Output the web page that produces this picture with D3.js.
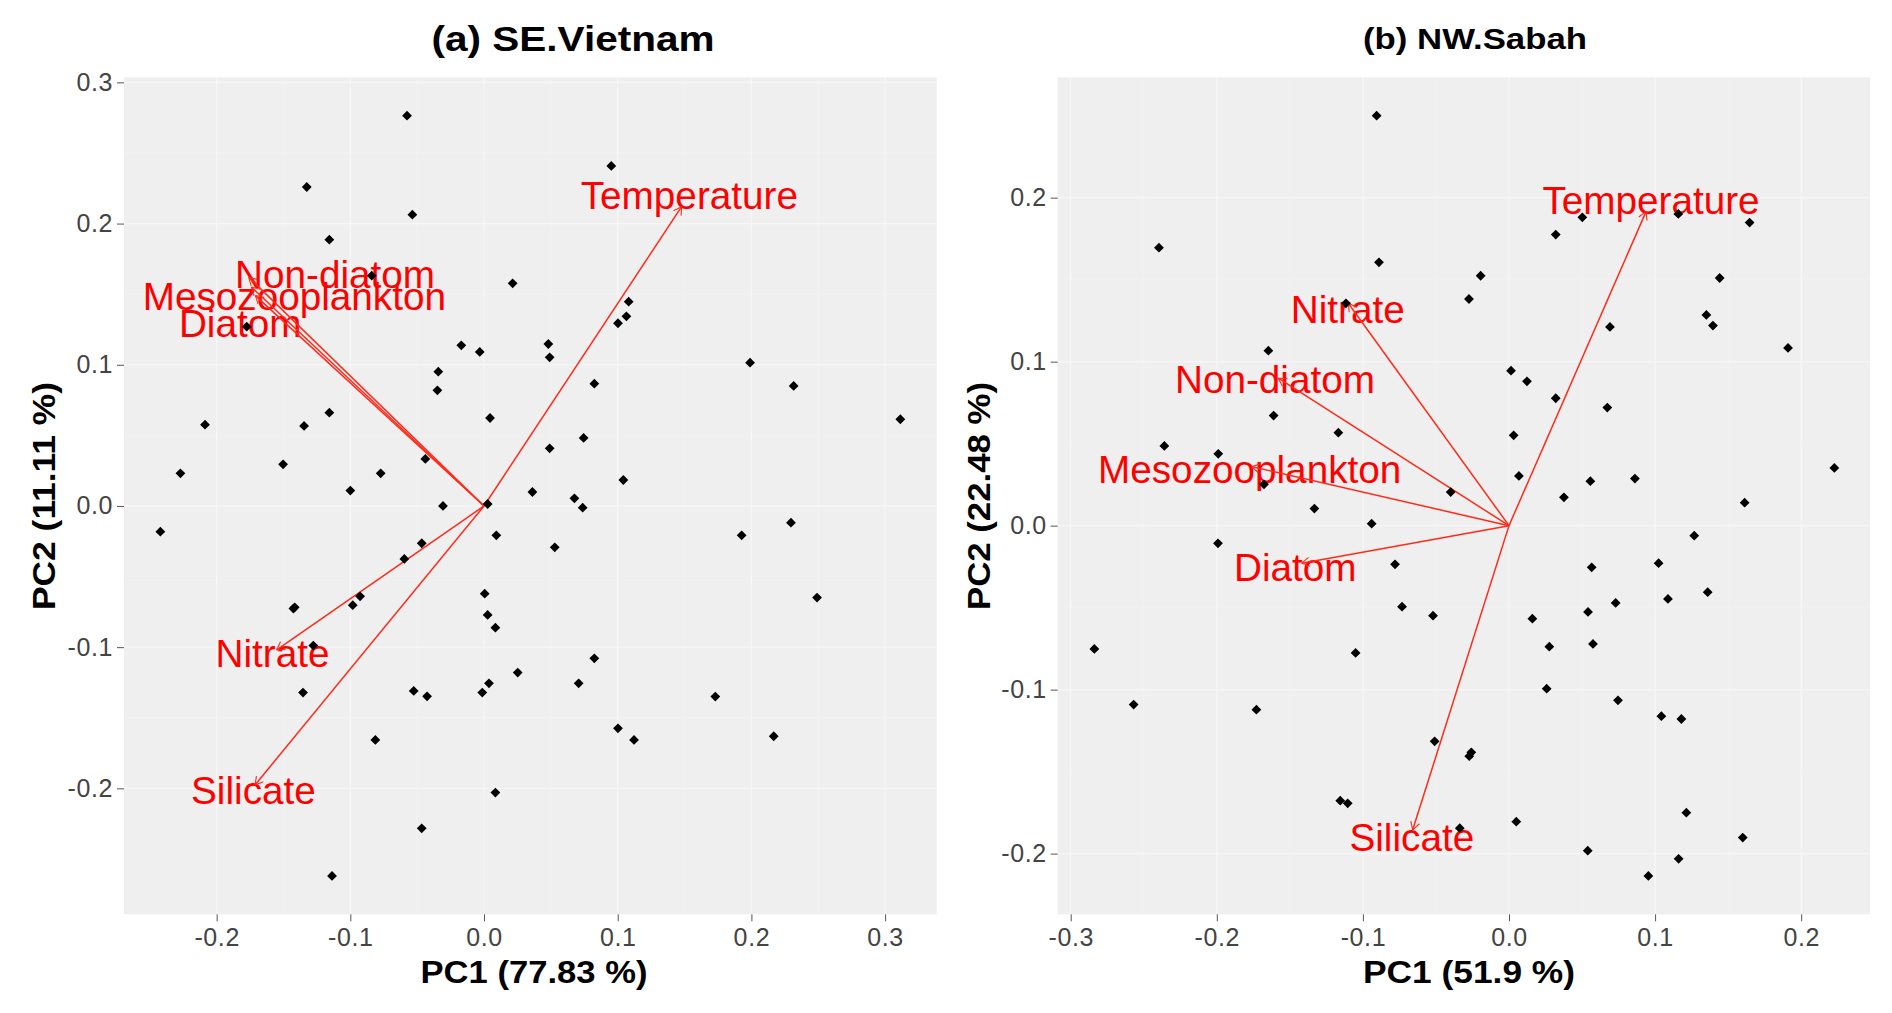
<!DOCTYPE html>
<html>
<head>
<meta charset="utf-8">
<script src="https://cdn.jsdelivr.net/npm/d3@7"></script>
<style>
  body { margin: 0; background: #fff; }
  text { font-family: "Liberation Sans", Arial, sans-serif; }
</style>
</head>
<body>
<svg id="chart" width="1892" height="1013"></svg>
<script>
// ---------- (a) SE.Vietnam ----------
const vnPC1 = [-0.0576, -0.1326, -0.0536, -0.1157, -0.0840, -0.1775, -0.0170, -0.0032, -0.0342, -0.0349,
  -0.1157, 0.0045, -0.2087, -0.1346, -0.1503, -0.0439, -0.2271, -0.0773, -0.1000, -0.0307,
  0.0027, 0.0952, 0.0214, 0.1082, 0.1065, 0.1002, 0.0481, 0.0491, 0.1990, 0.2316,
  0.0825, 0.3114, 0.0745, 0.0491, 0.1042, 0.0362, 0.0676, 0.0738, -0.2421, -0.0466,
  -0.0596, 0.0092, -0.0927, -0.0982, -0.1426, -0.1416, 0.0005, 0.0027, 0.0085, -0.1277,
  -0.1354, -0.0526, -0.0426, -0.0013, 0.0037, -0.0813, 0.0085, -0.0466, -0.1137, 0.0529,
  0.1927, 0.2296, 0.2491, 0.0825, 0.0252, 0.0708, 0.1730, 0.1002, 0.1122, 0.2167];
const vnPC2 = [0.2764, 0.2259, 0.2063, 0.1886, 0.1631, 0.1270, 0.1138, 0.1091, 0.0951, 0.0819,
  0.0661, 0.0623, 0.0576, 0.0567, 0.0295, 0.0333, 0.0231, 0.0231, 0.0109, 0.0000,
  0.0014, 0.2408, 0.1577, 0.1447, 0.1343, 0.1294, 0.1147, 0.1053, 0.1015, 0.0850,
  0.0866, 0.0614, 0.0482, 0.0408, 0.0184, 0.0099, 0.0054, -0.0012, -0.0182, -0.0264,
  -0.0375, -0.0208, -0.0640, -0.0703, -0.0727, -0.0718, -0.0621, -0.0772, -0.0862, -0.0989,
  -0.1322, -0.1310, -0.1348, -0.1322, -0.1256, -0.1657, -0.2030, -0.2283, -0.2620, -0.0293,
  -0.0208, -0.0118, -0.0649, -0.1079, -0.1180, -0.1256, -0.1350, -0.1575, -0.1657, -0.1631];
const vnVars   = ["Temperature", "Non-diatom", "Mesozooplankton", "Diatom", "Nitrate", "Silicate"];
const vnTipPC1 = [0.1478, -0.1760, -0.1740, -0.1710, -0.1551, -0.1713];
const vnTipPC2 = [0.2120, 0.1620, 0.1550, 0.1490, -0.1020, -0.1976];
const vnLabPC1 = [0.1536, -0.1114, -0.1419, -0.1824, -0.1582, -0.1725];
const vnLabPC2 = [0.2199, 0.1642, 0.1489, 0.1294, -0.1043, -0.2009];
const vnXTicks = [-0.2, -0.1, 0.0, 0.1, 0.2, 0.3];
const vnYTicks = [-0.2, -0.1, 0.0, 0.1, 0.2, 0.3];

// ---------- (b) NW.Sabah ----------
const sbPC1 = [-0.0906, -0.2396, -0.0890, -0.1116, -0.1647, -0.1611, -0.1168, -0.2359, -0.1990, -0.1677,
  -0.1332, 0.0502, 0.0320, 0.1159, 0.1647, -0.0194, -0.0274, 0.1442, 0.0691, 0.1351,
  0.1396, 0.1910, 0.0014, 0.0123, 0.0320, 0.0673, 0.0032, 0.0068, 0.0557, 0.0862,
  0.2227, -0.0399, 0.0376, 0.1613, -0.0940, -0.1992, -0.0780, -0.0732, -0.0520, -0.2838,
  -0.1050, -0.2569, -0.1729, -0.0509, -0.1155, -0.1104, 0.1268, 0.1024, 0.0566, 0.1360,
  0.0730, 0.1088, 0.0160, 0.0541, 0.0276, 0.0575, 0.0258, 0.0746, 0.1043, 0.1180,
  -0.0272, -0.0258, 0.0050, -0.0337, 0.1214, 0.1600, 0.0539, 0.1161, 0.0954];
const sbPC2 = [0.2500, 0.1695, 0.1606, 0.1356, 0.1067, 0.0671, 0.0567, 0.0486, 0.0438, 0.0252,
  0.0104, 0.1880, 0.1775, 0.1901, 0.1848, 0.1524, 0.1382, 0.1510, 0.1212, 0.1285,
  0.1220, 0.1084, 0.0945, 0.0880, 0.0777, 0.0720, 0.0551, 0.0303, 0.0271, 0.0287,
  0.0352, 0.0205, 0.0173, 0.0140, 0.0012, -0.0108, -0.0236, -0.0494, -0.0549, -0.0752,
  -0.0776, -0.1091, -0.1122, -0.1315, -0.1677, -0.1693, -0.0061, -0.0229, -0.0254, -0.0406,
  -0.0471, -0.0447, -0.0567, -0.0526, -0.0738, -0.0721, -0.0994, -0.1065, -0.1162, -0.1179,
  -0.1406, -0.1382, -0.1805, -0.1845, -0.1750, -0.1902, -0.1982, -0.2032, -0.2136];
const sbVars   = ["Temperature", "Nitrate", "Non-diatom", "Mesozooplankton", "Diatom", "Silicate"];
const sbTipPC1 = [0.0938, -0.1100, -0.1579, -0.1761, -0.1419, -0.0659];
const sbTipPC2 = [0.1915, 0.1356, 0.0899, 0.0360, -0.0229, -0.1855];
const sbLabPC1 = [0.0972, -0.1104, -0.1602, -0.1775, -0.1463, -0.0665];
const sbLabPC2 = [0.1986, 0.1320, 0.0893, 0.0348, -0.0250, -0.1896];
const sbXTicks = [-0.3, -0.2, -0.1, 0.0, 0.1, 0.2];
const sbYTicks = [-0.2, -0.1, 0.0, 0.1, 0.2];

const svg = d3.select("#chart");
const fmt = v => v.toFixed(1);

function drawPanel(p) {
  const x = d3.scaleLinear().domain(p.xDomain).range([p.left, p.right]);
  const y = d3.scaleLinear().domain(p.yDomain).range([p.bottom, p.top]);
  const g = svg.append("g");

  // panel background
  g.append("rect")
    .attr("x", p.left).attr("y", p.top)
    .attr("width", p.right - p.left).attr("height", p.bottom - p.top)
    .attr("fill", "#efefef");

  // grid, very faint in the original
  const mids = t => t.slice(1).map((v, i) => (v + t[i]) / 2);
  g.selectAll(".gx-minor").data(mids(p.xTicks)).join("line")
    .attr("x1", d => x(d)).attr("x2", d => x(d)).attr("y1", p.top).attr("y2", p.bottom)
    .attr("stroke", "#f3f3f3").attr("stroke-width", 0.8);
  g.selectAll(".gy-minor").data(mids(p.yTicks)).join("line")
    .attr("y1", d => y(d)).attr("y2", d => y(d)).attr("x1", p.left).attr("x2", p.right)
    .attr("stroke", "#f3f3f3").attr("stroke-width", 0.8);
  g.selectAll(".gx").data(p.xTicks).join("line")
    .attr("x1", d => x(d)).attr("x2", d => x(d)).attr("y1", p.top).attr("y2", p.bottom)
    .attr("stroke", "#f6f6f6").attr("stroke-width", 1.4);
  g.selectAll(".gy").data(p.yTicks).join("line")
    .attr("y1", d => y(d)).attr("y2", d => y(d)).attr("x1", p.left).attr("x2", p.right)
    .attr("stroke", "#f6f6f6").attr("stroke-width", 1.4);

  // axes
  const ax = g.append("g").attr("transform", `translate(0,${p.bottom})`)
    .call(d3.axisBottom(x).tickValues(p.xTicks).tickFormat(fmt).tickSize(7).tickPadding(7));
  const ay = g.append("g").attr("transform", `translate(${p.left},0)`)
    .call(d3.axisLeft(y).tickValues(p.yTicks).tickFormat(fmt).tickSize(7).tickPadding(4));
  [ax, ay].forEach(a => {
    a.select(".domain").remove();
    a.selectAll("line").attr("stroke", "#555");
    a.selectAll("text").attr("fill", "#444")
      .style("font-size", "25px").style("letter-spacing", "0.6px");
  });

  // variable labels
  const vars = p.vars.map((name, i) => ({
    name, tx: p.tipX[i], ty: p.tipY[i], lx: p.labX[i], ly: p.labY[i]
  }));
  g.selectAll(".lab").data(vars).join("text")
    .attr("x", d => x(d.lx)).attr("y", d => y(d.ly))
    .attr("dy", "0.36em")
    .attr("text-anchor", "middle")
    .attr("fill", "#ff0000")
    .style("font-size", "38.7px")
    .text(d => d.name);

  // arrows
  const x0 = x(0), y0 = y(0);
  g.selectAll(".arr").data(vars).join("line")
    .attr("x1", x0).attr("y1", y0)
    .attr("x2", d => x(d.tx)).attr("y2", d => y(d.ty))
    .attr("stroke", "#ff2a1a").attr("stroke-width", 1.5);
  const head = 9, spread = Math.PI / 6;
  vars.forEach(d => {
    const ex = x(d.tx), ey = y(d.ty);
    const ang = Math.atan2(ey - y0, ex - x0);
    [ang + Math.PI - spread, ang + Math.PI + spread].forEach(a => {
      g.append("line")
        .attr("x1", ex).attr("y1", ey)
        .attr("x2", ex + head * Math.cos(a)).attr("y2", ey + head * Math.sin(a))
        .attr("stroke", "#ff2a1a").attr("stroke-width", 1.1);
    });
  });

  // observations
  g.selectAll(".pt").data(d3.zip(p.pc1, p.pc2)).join("path")
    .attr("d", d3.symbol(d3.symbolSquare, 48))
    .attr("transform", d => `translate(${x(d[0])},${y(d[1])}) rotate(45)`)
    .attr("fill", "#000");

  // titles
  svg.append("text")
    .attr("x", p.titleX).attr("y", p.titleY)
    .attr("text-anchor", "middle")
    .attr("textLength", p.titleLen).attr("lengthAdjust", "spacingAndGlyphs")
    .style("font-size", p.titleSize + "px").style("font-weight", "bold")
    .text(p.title);
  svg.append("text")
    .attr("x", p.xTitleX).attr("y", 983)
    .attr("text-anchor", "middle")
    .attr("textLength", p.xTitleLen).attr("lengthAdjust", "spacingAndGlyphs")
    .style("font-size", "31px").style("font-weight", "bold")
    .text(p.xTitle);
  svg.append("text")
    .attr("transform", `translate(${p.yTitleX},496) rotate(-90)`)
    .attr("text-anchor", "middle")
    .attr("textLength", 228).attr("lengthAdjust", "spacingAndGlyphs")
    .style("font-size", "31px").style("font-weight", "bold")
    .text(p.yTitle);
}

drawPanel({
  left: 124, right: 936.7, top: 77.3, bottom: 914.3,
  xDomain: [-0.2693, 0.3386], yDomain: [-0.2892, 0.3036],
  xTicks: vnXTicks, yTicks: vnYTicks,
  pc1: vnPC1, pc2: vnPC2,
  vars: vnVars, tipX: vnTipPC1, tipY: vnTipPC2, labX: vnLabPC1, labY: vnLabPC2,
  title: "(a) SE.Vietnam", titleX: 573, titleY: 51, titleLen: 283, titleSize: 34.5,
  xTitle: "PC1 (77.83 %)", xTitleX: 534, xTitleLen: 227,
  yTitle: "PC2 (11.11 %)", yTitleX: 55
});

drawPanel({
  left: 1057.7, right: 1870, top: 77.3, bottom: 914.3,
  xDomain: [-0.3089, 0.2471], yDomain: [-0.2370, 0.2734],
  xTicks: sbXTicks, yTicks: sbYTicks,
  pc1: sbPC1, pc2: sbPC2,
  vars: sbVars, tipX: sbTipPC1, tipY: sbTipPC2, labX: sbLabPC1, labY: sbLabPC2,
  title: "(b) NW.Sabah", titleX: 1475, titleY: 49, titleLen: 224, titleSize: 30,
  xTitle: "PC1 (51.9 %)", xTitleX: 1469, xTitleLen: 212,
  yTitle: "PC2 (22.48 %)", yTitleX: 990
});
</script>
</body>
</html>
